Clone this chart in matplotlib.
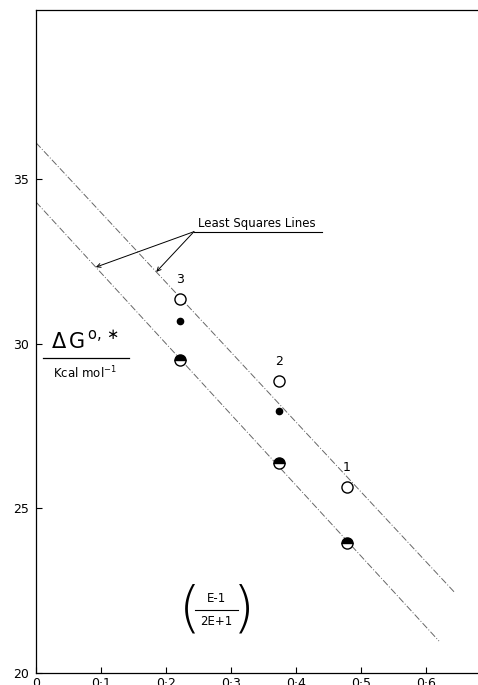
import numpy as np
import matplotlib
matplotlib.use("Agg")
from matplotlib import pyplot

# (E-1)/(2E+1) for solvents 1-3, and the free energies
solvent_labels = ["3", "2", "1"]
polarity = [0.2215, 0.374, 0.478]
open_dg = [31.36, 28.87, 25.65]
dot_polarity = [0.2215, 0.374]
dot_dg = [30.69, 27.96]
half_dg = [29.5, 26.38, 23.95]

# least squares lines as drawn in the figure (slope, intercept)
upper_fit = [-21.2, 36.1]
lower_fit = [-21.5, 34.3]

x_ticks = [0, 0.1, 0.2, 0.3, 0.4, 0.5, 0.6]
x_tick_labels = ["0", "0·1", "0·2", "0·3", "0·4", "0·5", "0·6"]
y_ticks = [20, 25, 30, 35]
y_tick_labels = ["20", "25", "30", "35"]

W, H = 478, 685
fig = pyplot.figure(figsize=(W / 100, H / 100), dpi=100)
ax = fig.add_axes([36 / W, 12 / H, (W - 36) / W, (H - 22) / H])
ax.set_xlim(0, 0.68)
ax.set_ylim(20, 40.13)

# least squares lines
line_style = dict(color="0.4", lw=0.7, ls=(0, (7, 2, 1, 2)), zorder=1)
xu = np.array([0, 0.645])
xl = np.array([0, 0.62])
ax.plot(xu, np.polyval(upper_fit, xu), **line_style)
ax.plot(xl, np.polyval(lower_fit, xl), **line_style)

# points
ax.plot(polarity, open_dg, "o", ms=8, mfc="white", mec="black", mew=1.0, zorder=3)
ax.plot(dot_polarity, dot_dg, "o", ms=4.5, mfc="black", mec="black", zorder=3)
ax.plot(polarity, half_dg, "o", ms=8, fillstyle="top", mfc="black", mfcalt="white",
        mec="black", mew=1.0, zorder=3)
for lab, x, y in zip(solvent_labels, polarity, open_dg):
    ax.annotate(lab, (x, y), xytext=(0, 9), textcoords="offset points",
                ha="center", va="bottom", fontsize=9)

# "Least Squares Lines" callout
tx, ty = 0.25, 33.45
ax.text(tx, ty, "Least Squares Lines", fontsize=8.5, ha="left", va="bottom")
ax.plot([0.243, 0.44], [ty - 0.05, ty - 0.05], color="black", lw=0.8)
for xa, fit in ((0.092, lower_fit), (0.185, upper_fit)):
    ya = np.polyval(fit, xa)
    ax.annotate("", xy=(xa, ya), xytext=(0.243, ty - 0.05),
                arrowprops=dict(arrowstyle="->", lw=0.7, color="black",
                                shrinkA=0, shrinkB=0, mutation_scale=7))

# y label as a fraction
ax.text(0.075, 29.72, r"$\Delta\,\mathrm{G}^{\,\mathrm{o},\ast}$", fontsize=15,
        ha="center", va="bottom")
ax.plot([0.01, 0.143], [29.55, 29.55], color="black", lw=0.9, clip_on=False)
ax.text(0.075, 29.35, r"Kcal mol$^{-1}$", fontsize=8.5, ha="center", va="top")

# x label as a fraction in parentheses
ax.text(0.278, 22.07, "E-1", fontsize=8.5, ha="center", va="bottom")
ax.plot([0.245, 0.31], [21.9, 21.9], color="black", lw=0.8)
ax.text(0.278, 21.75, "2E+1", fontsize=8.5, ha="center", va="top")
ax.text(0.236, 21.9, "(", fontsize=40, ha="center", va="center", fontweight="ultralight")
ax.text(0.32, 21.9, ")", fontsize=40, ha="center", va="center", fontweight="ultralight")

ax.set_xticks(x_ticks, labels=x_tick_labels)
ax.set_yticks(y_ticks, labels=y_tick_labels)
ax.tick_params(direction="in", length=4, width=0.8, labelsize=9)
ax.tick_params(axis="y", pad=5)
ax.tick_params(axis="x", pad=3)
ax.spines["right"].set_visible(False)
for s in ("left", "bottom", "top"):
    ax.spines[s].set_linewidth(0.9)

fig.savefig("out.png", dpi=100)
